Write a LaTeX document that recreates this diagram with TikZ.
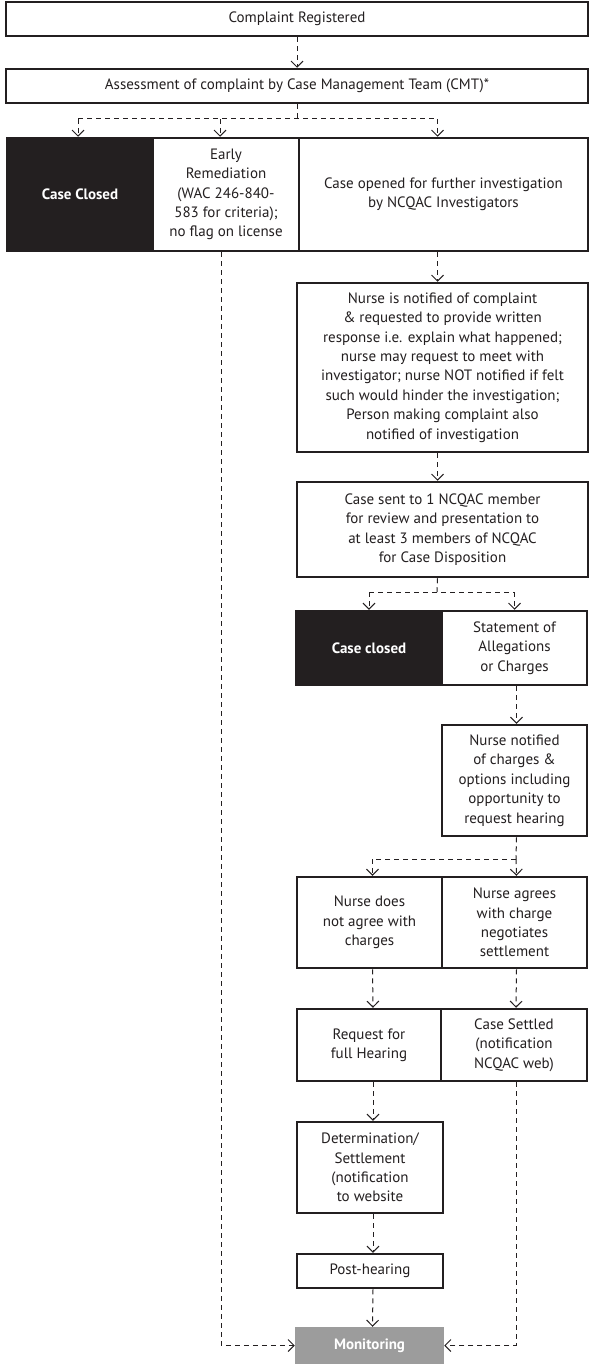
\documentclass[tikz,border=0pt]{standalone}
\usepackage{fontspec}
\setmainfont{PT Sans}
\usetikzlibrary{arrows.meta}
\definecolor{ink}{HTML}{231F20}
\definecolor{mgray}{HTML}{9C9C9C}
\begin{document}
\begin{tikzpicture}[x=1pt,y=-1pt,
  box/.style={draw=ink, line width=2.5pt, fill=white, text=ink, align=center, inner sep=0pt,
    font=\fontsize{15}{19.4}\selectfont},
  darkbox/.style={box, fill=ink, text=white, font=\fontsize{15}{19.4}\selectfont\bfseries},
  graybox/.style={box, draw=mgray, fill=mgray, text=white, font=\fontsize{15}{19.4}\selectfont\bfseries},
  dline/.style={draw=ink, line width=1pt, dash pattern=on 5pt off 4pt},
  conn/.style={dline, -{Straight Barb[length=6pt,width=12pt,line width=1pt]}}
]
\useasboundingbox (0,0) rectangle (591,1367);

\node[box, minimum width=582pt, minimum height=34pt] (cr) at (297,19) {Complaint Registered};
\node[box, minimum width=582pt, minimum height=34pt] (ass) at (297,86) {Assessment of complaint by Case Management Team (CMT)*};
\coordinate (j1) at (297,119);

\node[darkbox, minimum width=146pt, minimum height=113pt] (closed1) at (80,194.5) {Case Closed};
\node[box, minimum width=146pt, minimum height=113pt] (early) at (226,194.5) {Early\\Remediation\\(WAC 246-840-\\583 for criteria);\\no flag on license};
\node[box, minimum width=289pt, minimum height=113pt] (opened) at (443.5,194.5) {Case opened for further investigation\\by NCQAC Investigators};

\node[box, minimum width=291pt, minimum height=169pt] (nurse) at (442.5,367.5) {Nurse is notified of complaint\\\& requested to provide written\\response i.e. explain what happened;\\nurse may request to meet with\\investigator; nurse NOT notified if felt\\such would hinder the investigation;\\Person making complaint also\\notified of investigation};
\node[box, minimum width=291pt, minimum height=95pt] (sent) at (442.5,529.5) {Case sent to 1 NCQAC member\\for review and presentation to\\at least 3 members of NCQAC\\for Case Disposition};
\coordinate (j2) at (437,592);

\node[darkbox, minimum width=146pt, minimum height=74pt] (closed2) at (369,648) {Case closed};
\node[box, minimum width=145pt, minimum height=74pt] (stmt) at (514.5,648) {Statement of\\Allegations\\or Charges};
\node[box, minimum width=145pt, minimum height=111pt] (charges) at (514.5,780.5) {Nurse notified\\of charges \&\\options including\\opportunity to\\request hearing};
\coordinate (j3) at (516,859);

\node[box, minimum width=145pt, minimum height=91pt] (disagree) at (369.5,922.5) {Nurse does\\not agree with\\charges};
\node[box, minimum width=145pt, minimum height=91pt] (agree) at (514.5,922.5) {Nurse agrees\\with charge\\negotiates\\settlement};
\node[box, minimum width=144pt, minimum height=72pt] (request) at (369,1045) {Request for\\full Hearing};
\node[box, minimum width=146pt, minimum height=72pt] (settled) at (514,1045) {Case Settled\\(notification\\NCQAC web)};
\node[box, minimum width=146pt, minimum height=91pt] (determ) at (370,1167.5) {Determination/\\Settlement\\(notification\\to website};
\node[box, minimum width=146pt, minimum height=34pt] (post) at (370,1271) {Post-hearing};
\node[graybox, minimum width=147pt, minimum height=35pt] (monitor) at (369.5,1345.5) {Monitoring};

% connectors
\draw[conn] (cr) -- (ass);
\draw[dline] (ass.south) -- (j1);
\draw[dline] ([xshift=-2pt]closed1.north |- j1) -- ([xshift=-6pt]opened.north |- j1);
\draw[conn] ([xshift=-2pt]closed1.north |- j1) -- ([xshift=-2pt]closed1.north);
\draw[conn] ([xshift=-6pt]early.north |- j1) -- ([xshift=-6pt]early.north);
\draw[conn] ([xshift=-6pt]opened.north |- j1) -- ([xshift=-6pt]opened.north);

\draw[conn] ([xshift=-6pt]opened.south) -- ([xshift=-5pt]nurse.north);
\draw[conn] ([xshift=-5pt]nurse.south) -- ([xshift=-5pt]sent.north);

\draw[dline] ([xshift=-5pt]sent.south) -- (j2);
\draw[dline] (closed2.north |- j2) -- (stmt.north |- j2);
\draw[conn] (closed2.north |- j2) -- (closed2.north);
\draw[conn] (stmt.north |- j2) -- (stmt.north);

\draw[conn] ([xshift=2pt]stmt.south) -- ([xshift=2pt]charges.north);
\draw[dline] ([xshift=2pt]charges.south) -- (j3);
\draw[dline] (j3) -- ([xshift=3pt]disagree.north |- j3);
\draw[conn] ([xshift=3pt]disagree.north |- j3) -- ([xshift=3pt]disagree.north);
\draw[conn] (j3) -- ([xshift=2pt]agree.north);

\draw[conn] ([xshift=3pt]disagree.south) -- ([xshift=4pt]request.north);
\draw[conn] ([xshift=2pt]agree.south) -- ([xshift=2pt]settled.north);
\draw[conn] ([xshift=4pt]request.south) -- ([xshift=3pt]determ.north);
\draw[conn] ([xshift=3pt]determ.south) -- ([xshift=3pt]post.north);
\draw[conn] ([xshift=3pt]post.south) -- ([xshift=3pt]monitor.north);

\draw[conn] ([xshift=-5pt]early.south) |- (monitor.west);
\draw[conn] ([xshift=2pt]settled.south) |- (monitor.east);
\end{tikzpicture}
\end{document}
